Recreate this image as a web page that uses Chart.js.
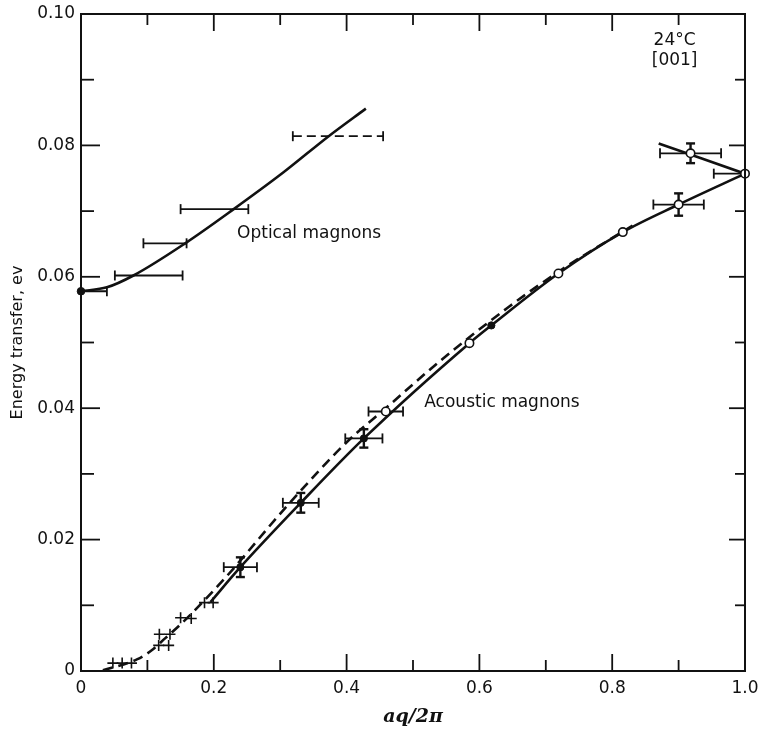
<!DOCTYPE html>
<html>
<head>
<meta charset="utf-8">
<title>Magnon dispersion, 24°C [001]</title>
<script src="https://cdn.jsdelivr.net/npm/chart.js@4.4.1/dist/chart.umd.min.js"></script>
<style>
    html, body { margin: 0; padding: 0; background: #fff; }
    #chart-wrap { width: 759px; height: 733px; }
</style>
</head>
<body>
<div id="chart-wrap"><canvas id="magnon-chart" width="759" height="733"></canvas></div>
<script>
// axis ticks (labels every other step)
const qTicks = [0, 0.1, 0.2, 0.3, 0.4, 0.5, 0.6, 0.7, 0.8, 0.9, 1.0];
const energyTicks = [0, 0.01, 0.02, 0.03, 0.04, 0.05, 0.06, 0.07, 0.08, 0.09, 0.10];

// optical magnons: drawn curve
const opticalCurveQ = [0.0, 0.039, 0.079, 0.157, 0.230, 0.305, 0.373, 0.429];
const opticalCurveE = [0.0578, 0.0584, 0.0602, 0.0651, 0.0703, 0.0759, 0.0814, 0.0856];

// optical magnons: measured (horizontal error bars)
const opticalQ = [0.0, 0.102, 0.1265, 0.201];
const opticalE = [0.0578, 0.0602, 0.0651, 0.0703];
const opticalQErr = [0.039, 0.051, 0.0325, 0.051];

// optical magnon, uncertain (dashed bar)
const opticalDashQ = [0.387];
const opticalDashE = [0.0814];
const opticalDashQErr = [0.068];

// acoustic magnons: solid curve
const acousticSolidQ = [0.195, 0.240, 0.331, 0.426, 0.585, 0.618, 0.719, 0.816, 0.900, 1.0];
const acousticSolidE = [0.0105, 0.0158, 0.0256, 0.0354, 0.0499, 0.0526, 0.0605, 0.0668, 0.0710, 0.0757];

// acoustic magnons: dashed curve
const acousticDashQ = [0.033, 0.085, 0.107, 0.127, 0.150, 0.172, 0.2175, 0.311, 0.402, 0.459, 0.541, 0.644, 0.724, 0.834];
const acousticDashE = [0.0001, 0.0018, 0.0032, 0.0050, 0.0071, 0.0093, 0.0142, 0.0252, 0.0350, 0.0400, 0.0472, 0.0554, 0.0611, 0.0680];

// branch near the zone boundary
const branchQ = [0.870, 1.0];
const branchE = [0.0803, 0.0757];

// acoustic magnons: open circles
const openQ = [0.459, 0.585, 0.719, 0.816, 0.900, 0.918, 1.0];
const openE = [0.0395, 0.0499, 0.0605, 0.0668, 0.0710, 0.0788, 0.0757];
const openQErr = [0.026, 0, 0, 0, 0.038, 0.046, 0.047];
const openEErr = [0, 0, 0, 0, 0.0017, 0.0015, 0];

// acoustic magnons: filled dots
const filledQ = [0.240, 0.331, 0.426, 0.618];
const filledE = [0.0158, 0.0256, 0.0354, 0.0526];
const filledQErr = [0.025, 0.027, 0.028, 0];
const filledEErr = [0.0015, 0.0015, 0.0014, 0];

// acoustic magnons: small crosses at low q
const crossQ = [0.048, 0.062, 0.076, 0.118, 0.134, 0.117, 0.132, 0.150, 0.166, 0.186, 0.199];
const crossE = [0.0012, 0.0012, 0.0012, 0.0056, 0.0056, 0.0039, 0.0039, 0.0081, 0.0080, 0.0104, 0.0104];

const INK = '#111';
const FONT = 'DejaVu Sans';

function toPoints(qs, es) {
    return qs.map((q, i) => ({ x: q, y: es[i] }));
}

function strokeLine(ctx, x1, y1, x2, y2) {
    ctx.beginPath();
    ctx.moveTo(x1, y1);
    ctx.lineTo(x2, y2);
    ctx.stroke();
}

const errorBarPlugin = {
    id: 'errorBars',
    beforeDatasetsDraw(chart) {
        const { ctx, chartArea, scales: { x, y } } = chart;
        const cap = 5;
        ctx.save();
        ctx.beginPath();
        ctx.rect(chartArea.left, chartArea.top, chartArea.width, chartArea.height);
        ctx.clip();
        ctx.strokeStyle = INK;
        chart.data.datasets.forEach((ds) => {
            if (!ds.errorBars) {
                return;
            }
            const { dx = [], dy = [], dash = [] } = ds.errorBars;
            ds.data.forEach((pt, i) => {
                const cx = x.getPixelForValue(pt.x);
                const cy = y.getPixelForValue(pt.y);
                if (dx[i]) {
                    const left = x.getPixelForValue(pt.x - dx[i]);
                    const right = x.getPixelForValue(pt.x + dx[i]);
                    ctx.lineWidth = 1.8;
                    ctx.setLineDash(dash);
                    strokeLine(ctx, left, cy, right, cy);
                    ctx.setLineDash([]);
                    strokeLine(ctx, left, cy - cap, left, cy + cap);
                    strokeLine(ctx, right, cy - cap, right, cy + cap);
                }
                if (dy[i]) {
                    const top = y.getPixelForValue(pt.y + dy[i]);
                    const bottom = y.getPixelForValue(pt.y - dy[i]);
                    ctx.setLineDash([]);
                    ctx.lineWidth = 2.4;
                    strokeLine(ctx, cx, top, cx, bottom);
                    strokeLine(ctx, cx - 4.5, top, cx + 4.5, top);
                    strokeLine(ctx, cx - 4.5, bottom, cx + 4.5, bottom);
                }
            });
        });
        ctx.restore();
    },
};

const frameTicksPlugin = {
    id: 'frameTicks',
    afterDraw(chart) {
        const { ctx, chartArea: { left, right, top, bottom }, scales: { x, y } } = chart;
        ctx.save();
        ctx.strokeStyle = INK;
        ctx.lineWidth = 2;
        ctx.strokeRect(left, top, right - left, bottom - top);
        ctx.lineWidth = 1.8;
        x.ticks.forEach(({ value }) => {
            if (value <= 0 || value >= 1) {
                return;
            }
            const px = x.getPixelForValue(value);
            const len = Math.round(value * 10) % 2 === 0 ? 17 : 11;
            strokeLine(ctx, px, bottom, px, bottom - len);
            strokeLine(ctx, px, top, px, top + len);
        });
        y.ticks.forEach(({ value }) => {
            if (value <= 0 || value >= 0.1) {
                return;
            }
            const py = y.getPixelForValue(value);
            const len = Math.round(value * 100) % 2 === 0 ? 19 : 13;
            strokeLine(ctx, left, py, left + len, py);
            strokeLine(ctx, right, py, right - len + 3, py);
        });
        ctx.restore();
    },
};

const annotationPlugin = {
    id: 'annotations',
    afterDatasetsDraw(chart) {
        const { ctx, scales: { x, y } } = chart;
        const notes = [
            { text: 'Optical magnons', q: 0.235, e: 0.0666, align: 'left' },
            { text: 'Acoustic magnons', q: 0.517, e: 0.0408, align: 'left' },
            { text: '24°C', q: 0.894, e: 0.0960, align: 'center' },
            { text: '[001]', q: 0.894, e: 0.0929, align: 'center' },
        ];
        ctx.save();
        ctx.fillStyle = INK;
        ctx.font = `17px "${FONT}"`;
        ctx.textBaseline = 'middle';
        notes.forEach((n) => {
            ctx.textAlign = n.align;
            ctx.fillText(n.text, x.getPixelForValue(n.q), y.getPixelForValue(n.e));
        });
        ctx.restore();
    },
};

const curveStyle = {
    type: 'line',
    borderColor: INK,
    borderWidth: 2.6,
    pointRadius: 0,
    fill: false,
    cubicInterpolationMode: 'monotone',
};

const markStyle = {
    type: 'line',
    showLine: false,
    clip: false,
    borderColor: INK,
};

const ctx = document.getElementById('magnon-chart').getContext('2d');
new Chart(ctx, {
    type: 'line',
    data: {
        datasets: [
            {
                ...markStyle,
                label: 'Acoustic (open)',
                data: toPoints(openQ, openE),
                pointStyle: 'circle',
                pointRadius: 4.2,
                pointBorderWidth: 1.6,
                pointBackgroundColor: '#fff',
                errorBars: { dx: openQErr, dy: openEErr },
            },
            {
                ...markStyle,
                label: 'Acoustic (filled)',
                data: toPoints(filledQ, filledE),
                pointStyle: 'circle',
                pointRadius: 3.6,
                pointBorderWidth: 1,
                pointBackgroundColor: INK,
                errorBars: { dx: filledQErr, dy: filledEErr },
            },
            {
                ...markStyle,
                label: 'Acoustic (low q)',
                data: toPoints(crossQ, crossE),
                pointStyle: 'cross',
                pointRadius: 5.5,
                pointBorderWidth: 1.6,
            },
            {
                ...markStyle,
                label: 'Optical',
                data: toPoints(opticalQ, opticalE),
                pointStyle: 'circle',
                pointRadius: (c) => (c.dataIndex === 0 ? 3.8 : 0),
                pointBackgroundColor: INK,
                errorBars: { dx: opticalQErr },
            },
            {
                ...markStyle,
                label: 'Optical (uncertain)',
                data: toPoints(opticalDashQ, opticalDashE),
                pointRadius: 0,
                errorBars: { dx: opticalDashQErr, dash: [9, 5] },
            },
            {
                ...curveStyle,
                label: 'Optical curve',
                data: toPoints(opticalCurveQ, opticalCurveE),
            },
            {
                ...curveStyle,
                label: 'Acoustic curve',
                data: toPoints(acousticSolidQ, acousticSolidE),
            },
            {
                ...curveStyle,
                label: 'Acoustic curve (dashed)',
                data: toPoints(acousticDashQ, acousticDashE),
                borderDash: [10, 6],
            },
            {
                ...curveStyle,
                label: 'Branch',
                data: toPoints(branchQ, branchE),
            },
        ],
    },
    options: {
        responsive: false,
        animation: false,
        events: [],
        layout: {
            padding: { top: 14, right: 14, left: 0, bottom: 0 },
        },
        plugins: {
            legend: { display: false },
            tooltip: { enabled: false },
        },
        scales: {
            x: {
                type: 'linear',
                min: 0,
                max: 1.0,
                afterFit(scale) {
                    scale.height = 62;
                    scale.paddingLeft = 0;
                    scale.paddingRight = 0;
                },
                afterBuildTicks(scale) {
                    scale.ticks = qTicks.map((value) => ({ value }));
                },
                border: { display: false },
                grid: { display: false, drawTicks: false },
                ticks: {
                    color: INK,
                    padding: 7,
                    maxRotation: 0,
                    autoSkip: false,
                    font: { family: FONT, size: 17 },
                    callback(value) {
                        if (Math.round(value * 10) % 2 !== 0) {
                            return '';
                        }
                        return value === 0 ? '0' : value.toFixed(1);
                    },
                },
                title: {
                    display: true,
                    text: 'aq/2π',
                    color: INK,
                    padding: { top: 0, bottom: 5 },
                    font: { family: 'DejaVu Serif', size: 19, style: 'italic', weight: 'bold' },
                },
            },
            y: {
                type: 'linear',
                min: 0,
                max: 0.10,
                afterFit(scale) {
                    scale.width = 81;
                    scale.paddingTop = 0;
                    scale.paddingBottom = 0;
                },
                afterBuildTicks(scale) {
                    scale.ticks = energyTicks.map((value) => ({ value }));
                },
                border: { display: false },
                grid: { display: false, drawTicks: false },
                ticks: {
                    color: INK,
                    padding: 6,
                    autoSkip: false,
                    font: { family: FONT, size: 17 },
                    callback(value) {
                        if (Math.round(value * 100) % 2 !== 0) {
                            return '';
                        }
                        return value === 0 ? '0' : value.toFixed(2);
                    },
                },
                title: {
                    display: true,
                    text: 'Energy transfer, ev',
                    color: INK,
                    padding: { top: 8, bottom: 0 },
                    font: { family: FONT, size: 16 },
                },
            },
        },
    },
    plugins: [errorBarPlugin, annotationPlugin, frameTicksPlugin],
});
</script>
</body>
</html>
